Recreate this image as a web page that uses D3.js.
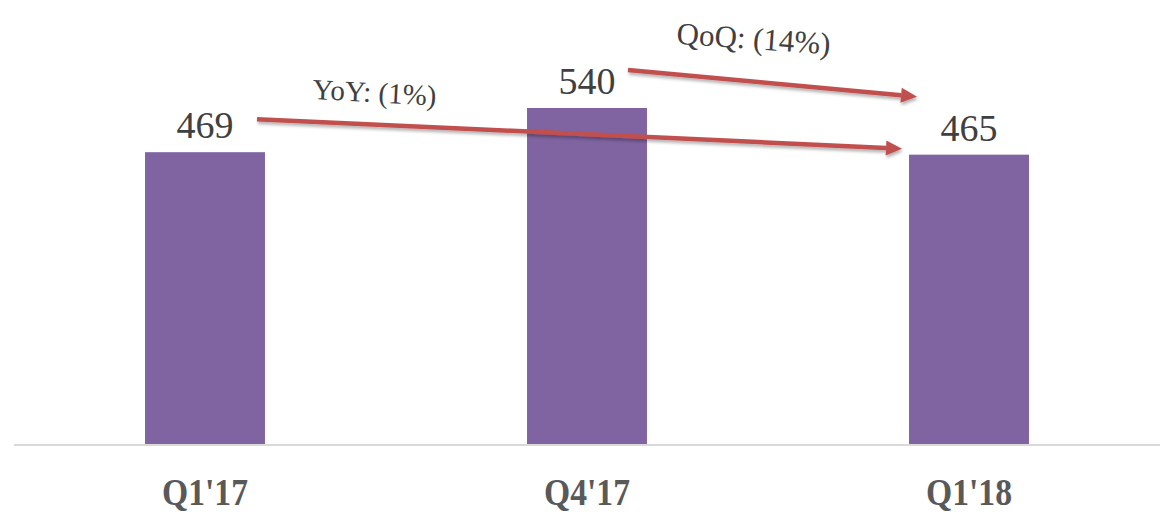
<!DOCTYPE html>
<html><head><meta charset="utf-8">
<script src="https://cdn.jsdelivr.net/npm/d3@7"></script>
<style>html,body{margin:0;padding:0;background:#fff;}svg{display:block;}</style>
</head><body>
<svg id="c" width="1165" height="526"></svg>
<script>
const categories = ["Q1'17", "Q4'17", "Q1'18"];
const values = [469, 540, 465];
const yoyLabel = "YoY: (1%)";
const qoqLabel = "QoQ: (14%)";

const W = 1165, H = 526;
const svg = d3.select("#c");
const defs = svg.append("defs");
const f = defs.append("filter").attr("id","sh").attr("x","-10%").attr("y","-50%").attr("width","120%").attr("height","300%");
f.append("feDropShadow").attr("dx",1).attr("dy",2.5).attr("stdDeviation",1.5).attr("flood-color","#000").attr("flood-opacity",0.3);

const x = d3.scaleBand().domain(categories).range([14, 1160]).paddingInner(0.686).paddingOuter(0.343);
const y = d3.scaleLinear().domain([0, 540]).range([444, 108]);

svg.selectAll("rect.bar").data(values).join("rect").attr("class","bar")
  .attr("x",(d,i)=>x(categories[i])).attr("width",x.bandwidth())
  .attr("y",d=>y(d)).attr("height",d=>y(0)-y(d)).attr("fill","#8064a2");

svg.append("line").attr("x1",14).attr("x2",1160).attr("y1",y(0)+1).attr("y2",y(0)+1)
  .attr("stroke","#d9d9d9").attr("stroke-width",2);

svg.selectAll("text.val").data(values).join("text").attr("class","val")
  .attr("x",(d,i)=>x(categories[i])+x.bandwidth()/2).attr("y",d=>y(d)-14)
  .attr("text-anchor","middle").attr("font-family","'Liberation Serif','DejaVu Serif',serif")
  .attr("font-size",38).attr("fill","#404040").text(d=>d);

const xAxis = d3.axisBottom(x).tickSize(0).tickPadding(0);
const gx = svg.append("g").attr("transform",`translate(0,${y(0)})`).call(xAxis);
gx.select(".domain").remove();
gx.selectAll("text").attr("dy",null).attr("y",61/1.15).attr("transform","scale(1.02,1.15)")
  .attr("font-family","'Liberation Serif','DejaVu Serif',serif").attr("font-weight","bold")
  .attr("font-size",33).attr("fill","#595959");

function arrow(x1,y1,x2,y2){
  const g = svg.append("g").attr("filter","url(#sh)");
  const a = Math.atan2(y2-y1,x2-x1), L=16, Wd=7.5;
  const bx = x2 - L*Math.cos(a), by = y2 - L*Math.sin(a);
  g.append("line").attr("x1",x1).attr("y1",y1).attr("x2",bx).attr("y2",by)
    .attr("stroke","#c0504d").attr("stroke-width",4.5);
  const pts = [[x2,y2],[bx + Wd*Math.sin(a), by - Wd*Math.cos(a)],[bx - Wd*Math.sin(a), by + Wd*Math.cos(a)]];
  g.append("polygon").attr("points",pts.map(p=>p.join(",")).join(" ")).attr("fill","#c0504d");
}
const b0 = x(categories[0]), b1 = x(categories[1]), b2 = x(categories[2]), bw = x.bandwidth();
arrow(b0+bw-8, y(values[0])-33, b2-7, y(values[2])-6);
arrow(b1+bw-19, y(values[1])-38, b2+8, y(values[2])-58);

function label(t,cx,cy,rot,fs){
  svg.append("text").attr("transform",`translate(${cx},${cy}) rotate(${rot})`)
    .attr("text-anchor","middle").attr("font-family","'Liberation Serif','DejaVu Serif',serif")
    .attr("font-size",fs).attr("fill","#404040").text(t);
}
label(yoyLabel, (b0+b1+bw)/2 - 22, y(values[0]) - 50, 3, 29);
label(qoqLabel, b1+bw+106, y(values[1]) - 59, 4, 31);
</script>
</body></html>
